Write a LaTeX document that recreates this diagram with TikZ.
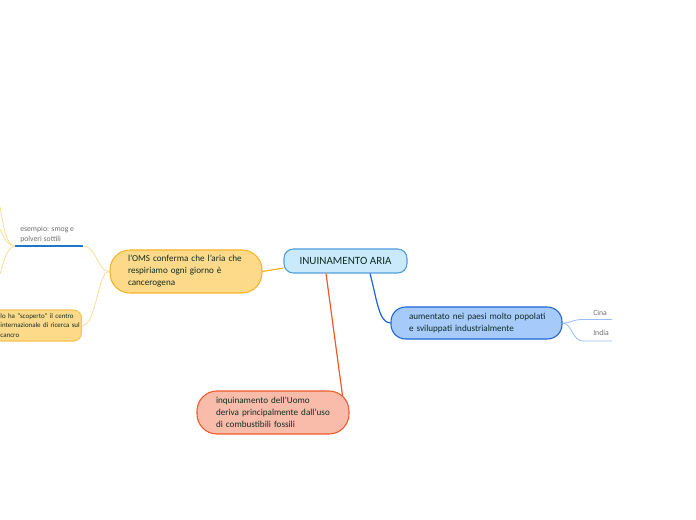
\documentclass[tikz,border=0pt]{standalone}
\usepackage{fontspec}
\setmainfont{Carlito}
\definecolor{txt}{RGB}{15,45,35}
\definecolor{cfill}{RGB}{202,233,251}
\definecolor{cdraw}{RGB}{78,158,220}
\definecolor{ofill}{RGB}{253,218,138}
\definecolor{odraw}{RGB}{245,180,40}
\definecolor{bfill}{RGB}{166,202,250}
\definecolor{bdraw}{RGB}{30,100,210}
\definecolor{rfill}{RGB}{249,188,170}
\definecolor{rdraw}{RGB}{240,90,40}
\definecolor{lyel}{RGB}{250,222,150}
\definecolor{lblue}{RGB}{150,190,240}
\definecolor{uline}{RGB}{25,120,200}
\definecolor{gtxt}{RGB}{110,110,110}
\begin{document}
\begin{tikzpicture}[x=0.75pt,y=-0.75pt,
  mainbox/.style={draw=cdraw,fill=cfill,line width=0.8pt,rounded corners=7pt,
    minimum width=92.25pt,minimum height=18pt,inner sep=0pt,text=txt,
    font=\fontsize{8.3pt}{9pt}\selectfont},
  topic/.style={line width=0.8pt,rounded corners=15pt,align=left,inner ysep=0pt,
    text=txt,font=\fontsize{6.85pt}{9pt}\selectfont},
  small/.style={text=gtxt,inner sep=0pt,anchor=west,align=left,
    font=\fontsize{5.8pt}{7pt}\selectfont}]
\useasboundingbox (0,0) rectangle (696,520);
\clip (0,0) rectangle (696,520);
% nodes
\node[mainbox] (c) at (345.5,261) {INUINAMENTO ARIA};
\node[topic,draw=odraw,fill=ofill,minimum height=32.25pt,inner xsep=13.5pt,text width=87pt] (o) at (186,271.5)
  {\mbox{l'OMS conferma che l'aria che}\\\mbox{respiriamo ogni giorno è}\\\mbox{cancerogena}};
\node[topic,draw=bdraw,fill=bfill,minimum height=24pt,inner xsep=13.5pt,text width=101.25pt,rounded corners=11pt] (b) at (476.5,323)
  {\mbox{aumentato nei paesi molto popolati}\\\mbox{e sviluppati industrialmente}};
\node[topic,draw=rdraw,fill=rfill,minimum height=32.25pt,inner xsep=14.25pt,text width=85.5pt] (r) at (273,412.5)
  {\mbox{inquinamento dell'Uomo}\\\mbox{deriva principalmente dall'uso}\\\mbox{di combustibili fossili}};
\node[topic,draw=odraw!80,fill=ofill,minimum height=23.25pt,inner xsep=9pt,text width=51.75pt,rounded corners=6pt,
  anchor=east,font=\fontsize{5.2pt}{7.2pt}\selectfont] (l) at (82,325.5)
  {\mbox{lo ha “scoperto” il centro}\\\mbox{internazionale di ricerca sul}\\\mbox{cancro}};
\node[small] (e) at (20,234.5) {esempio: smog e\\polveri sottili};
\node[small] (ci) at (593,313) {Cina};
\node[small] (in) at (593,333) {India};
\coordinate (e1) at (83,246);
\coordinate (e0) at (15,246);
\coordinate (eu) at (0,207);
\coordinate (em) at (0,229);
\coordinate (ed) at (0,274);
\coordinate (ci0) at (583,319.5);
\coordinate (ci1) at (612,319.5);
\coordinate (in0) at (583,341);
\coordinate (in1) at (612,341);
% connectors
\draw[odraw,line width=0.9pt] ([yshift=-5.25pt]c.west) -- (o.east);
\draw[bdraw,line width=0.9pt] ([xshift=18.4pt]c.south) .. controls (377,300) and (379,323) .. (b.west);
\draw[rdraw,line width=0.9pt] ([xshift=-14.6pt]c.south) -- ([xshift=-5.25pt,yshift=-4pt]r.north east);
\draw[lyel,line width=0.6pt] (o.west) .. controls (97,271.5) and (97,246) .. (e1);
\draw[lyel,line width=0.6pt] (o.west) .. controls (97,271.5) and (97,325.5) .. (l.east);
\draw[uline,line width=0.9pt] (e0) -- (e1);
\draw[lyel,line width=0.6pt] (e0) .. controls (6,245) and (4,228) .. (eu);
\draw[lyel,line width=0.6pt] (e0) .. controls (7,245) and (4,238) .. (em);
\draw[lyel,line width=0.6pt] (e0) .. controls (6,248) and (4,262) .. (ed);
\draw[lblue,line width=0.6pt] (b.east) .. controls (572,323) and (572,319.5) .. (ci0) -- (ci1);
\draw[lblue,line width=0.6pt] (b.east) .. controls (572,323) and (572,341) .. (in0) -- (in1);
\end{tikzpicture}
\end{document}
